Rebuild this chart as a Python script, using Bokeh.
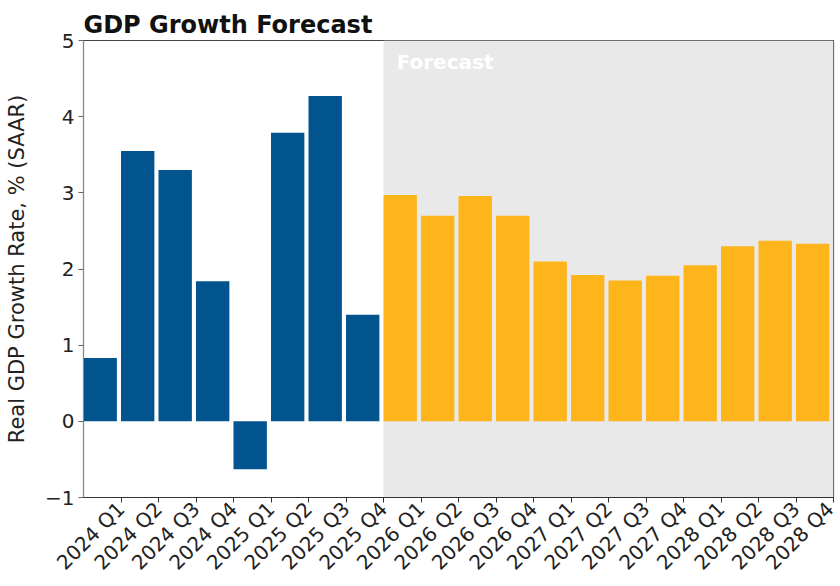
import math
from bokeh.plotting import figure
from bokeh.models import (Range1d, FixedTicker, BoxAnnotation, Label, ColumnDataSource)
from bokeh.embed import file_html
from bokeh.resources import INLINE

# ---- data ----
quarters = ["2024 Q1", "2024 Q2", "2024 Q3", "2024 Q4",
            "2025 Q1", "2025 Q2", "2025 Q3", "2025 Q4",
            "2026 Q1", "2026 Q2", "2026 Q3", "2026 Q4",
            "2027 Q1", "2027 Q2", "2027 Q3", "2027 Q4",
            "2028 Q1", "2028 Q2", "2028 Q3", "2028 Q4"]
growth = [0.83, 3.55, 3.30, 1.84,
          -0.63, 3.79, 4.27, 1.40,
          2.97, 2.70, 2.96, 2.70,
          2.10, 1.92, 1.85, 1.91,
          2.05, 2.30, 2.37, 2.33]
forecast_start = "2026 Q1"
y_ticks = [-1, 0, 1, 2, 3, 4, 5]

ACTUAL_COLOR = "#01548E"
FORECAST_COLOR = "#FDB51B"

idx = list(range(len(quarters)))
fstart = quarters.index(forecast_start)
bar_w = 0.89
colors = [ACTUAL_COLOR if i < fstart else FORECAST_COLOR for i in idx]
src = ColumnDataSource(dict(x=[i + bar_w / 2 for i in idx], top=growth, color=colors))

p = figure(width=838, height=586, output_backend="svg", toolbar_location=None,
           x_range=Range1d(0, len(quarters)), y_range=Range1d(-1, 5),
           min_border_left=83, min_border_right=5, min_border_top=40, min_border_bottom=88)

shade = BoxAnnotation(left=fstart, fill_color="#E9E9E9", fill_alpha=1.0,
                      line_color=None, level="underlay")
p.add_layout(shade)

p.vbar(x="x", top="top", bottom=0, width=bar_w, color="color", line_color=None, source=src)

p.add_layout(Label(x=fstart + 0.35, y=4.87, text="Forecast", text_baseline="top",
                   text_font="DejaVu Sans", text_font_size="20px", text_font_style="bold",
                   text_color="white"))

p.title.text = "GDP Growth Forecast"
p.title.text_font = "DejaVu Sans"
p.title.text_font_size = "24px"
p.title.text_font_style = "bold"
p.title.text_color = "#111111"
p.title.align = "left"
p.title.standoff = 3

p.xgrid.visible = False
p.ygrid.visible = False
p.outline_line_color = "#444444"
p.outline_line_width = 1.2

xa = p.xaxis[0]
xa.ticker = FixedTicker(ticks=[i + 1 for i in idx])
xa.major_label_overrides = {i + 1: q for i, q in zip(idx, quarters)}
xa.major_label_orientation = math.pi / 4
xa.minor_tick_line_color = None
xa.major_tick_in = 0
xa.major_tick_out = 5
xa.major_label_standoff = 3
xa.axis_line_color = "#333333"
xa.major_tick_line_color = "#333333"
xa.major_label_text_font = "DejaVu Sans"
xa.major_label_text_font_size = "20px"
xa.major_label_text_color = "#222222"

ya = p.yaxis[0]
ya.ticker = FixedTicker(ticks=y_ticks)
ya.major_label_overrides = {t: (f"\u2212{abs(t)}" if t < 0 else str(t)) for t in y_ticks}
ya.minor_tick_line_color = None
ya.major_tick_in = 0
ya.major_tick_out = 5
ya.major_label_standoff = 4
ya.axis_line_color = "#8a8a8a"
ya.major_tick_line_color = "#666666"
ya.major_label_text_font = "DejaVu Sans"
ya.major_label_text_font_size = "20px"
ya.major_label_text_color = "#222222"
ya.axis_label = "Real GDP Growth Rate, % (SAAR)"
ya.axis_label_text_font = "DejaVu Sans"
ya.axis_label_text_font_size = "21px"
ya.axis_label_text_font_style = "normal"
ya.axis_label_text_color = "#222222"
ya.axis_label_standoff = 13

open("out.html", "w").write(file_html(p, INLINE))
